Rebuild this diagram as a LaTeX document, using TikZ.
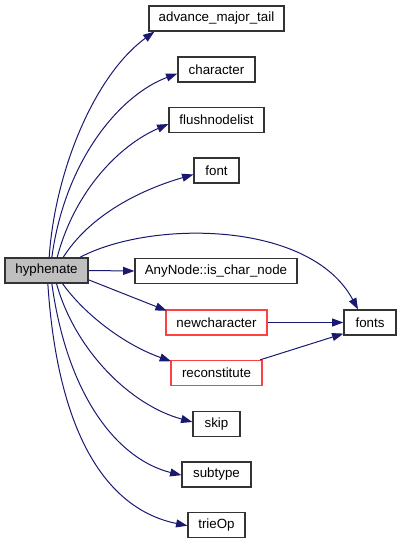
\documentclass[tikz,border=0pt]{standalone}
\usepackage{fontspec}
\setmainfont{Liberation Sans}
\usetikzlibrary{arrows.meta}
\definecolor{edgeblue}{HTML}{191970}
\definecolor{redborder}{HTML}{FF4040}
\tikzset{
  box/.style={draw=black!80, line width=0.9pt, fill=white, minimum height=18.75pt, inner sep=0pt, font=\fontsize{10}{12}\selectfont},
  redbox/.style={box, draw=redborder},
  mainbox/.style={box, fill=black!25},
  edge/.style={draw=edgeblue, line width=0.75pt, -{Triangle[length=8.5pt,width=6pt]}}
}
\begin{document}
\begin{tikzpicture}[x=0.75pt,y=-0.75pt]
\useasboundingbox (0,0) rectangle (401,544);
\node[mainbox, minimum width=62.25pt] (h) at (46.5,270.5) {hyphenate};
\node[box, minimum width=101.25pt] (adv) at (216.5,18.5) {advance\_major\_tail};
\node[box, minimum width=57.75pt] (chr) at (216.5,69.5) {character};
\node[box, minimum width=71.25pt] (fnl) at (216.5,120) {flushnodelist};
\node[box, minimum width=33.75pt] (fnt) at (216.5,170.5) {font};
\node[box, minimum width=121.5pt] (any) at (216,271) {AnyNode::is\_char\_node};
\node[redbox, minimum width=75.75pt] (newc) at (216.5,322.5) {newcharacter};
\node[box, minimum width=39pt] (fonts) at (370,322.5) {fonts};
\node[redbox, minimum width=68.25pt] (rec) at (216.5,373) {reconstitute};
\node[box, minimum width=35.25pt] (skp) at (216.5,424) {skip};
\node[box, minimum width=51.75pt] (sub) at (216.5,474.5) {subtype};
\node[box, minimum width=42.75pt] (tri) at (216.5,525) {trieOp};

\draw[edge] ([xshift=2pt]h.north) .. controls (55,170) and (95,75) .. ([xshift=4.5pt]adv.south west);
\draw[edge] ([xshift=4pt]h.north) .. controls (65,160) and (120,95) .. ([yshift=-3pt]chr.west);
\draw[edge] ([xshift=8pt]h.north) .. controls (75,190) and (120,145) .. ([yshift=-3pt]fnl.west);
\draw[edge] ([xshift=12.5pt]h.north) .. controls (90,215) and (140,190) .. ([yshift=-3pt]fnt.west);
\draw[edge] ([xshift=25pt]h.north) .. controls (150,220) and (310,220) .. ([xshift=-9pt]fonts.north);
\draw[edge] (h.east) -- (any.west);
\draw[edge] ([yshift=-7pt]h.east) -- ([xshift=1pt,yshift=-1pt]newc.north west);
\draw[edge] ([xshift=12pt]h.south) .. controls (85,315) and (125,345) .. ([xshift=0.5pt,yshift=-1pt]rec.north west);
\draw[edge] ([xshift=7.5pt]h.south) .. controls (75,350) and (130,405) .. ([yshift=1.5pt]skp.west);
\draw[edge] ([xshift=4pt]h.south) .. controls (68,400) and (120,460) .. ([yshift=-0.5pt]sub.west);
\draw[edge] ([xshift=1pt]h.south) .. controls (58,440) and (110,510) .. ([yshift=-0.5pt]tri.west);
\draw[edge] (newc) -- (fonts);
\draw[edge] ([xshift=-2pt]rec.north east) -- ([yshift=1.5pt]fonts.south west);
\end{tikzpicture}
\end{document}
